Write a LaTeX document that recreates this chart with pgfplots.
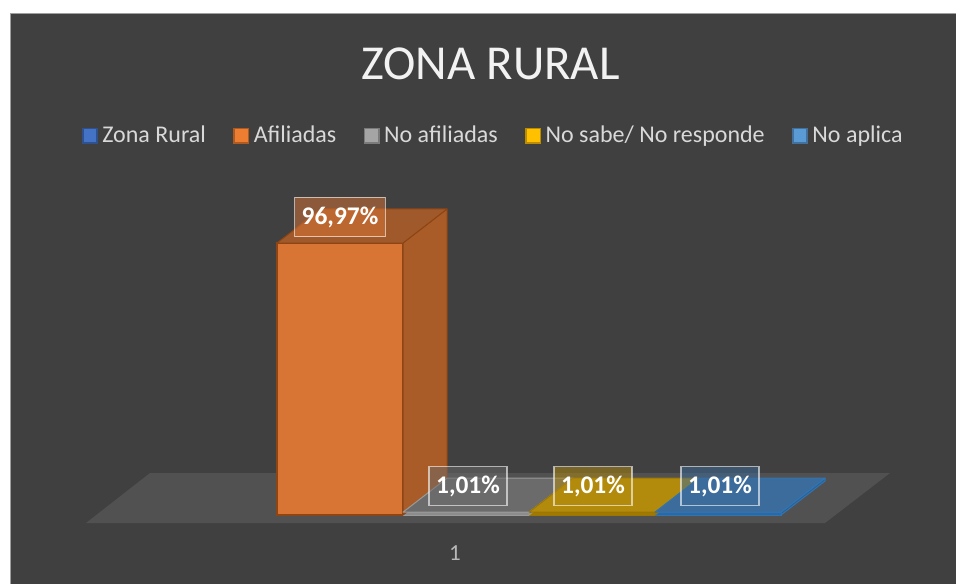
\documentclass[border=0pt]{standalone}
\usepackage{pgfplots}
\pgfplotsset{compat=1.18}
\usepackage{fontspec}
\setmainfont{Carlito}
\definecolor{bg}{HTML}{404040}
\definecolor{floorc}{HTML}{525151}
\definecolor{legtext}{HTML}{D9D9D9}
\definecolor{zrfill}{HTML}{4472C4}\definecolor{zredge}{HTML}{2F528F}
\definecolor{orfill}{HTML}{ED7D31}\definecolor{oredge}{HTML}{AE5A21}
\definecolor{grfill}{HTML}{A5A5A5}\definecolor{gredge}{HTML}{7B7B7B}
\definecolor{yefill}{HTML}{FFC000}\definecolor{yeedge}{HTML}{BC8C00}
\definecolor{blfill}{HTML}{5B9BD5}\definecolor{bledge}{HTML}{41719C}
% 3D faces
\definecolor{orfront}{HTML}{D87535}\definecolor{ortop}{HTML}{A0592A}\definecolor{orside}{HTML}{A95C28}\definecolor{orline}{HTML}{8E4514}
\definecolor{grfront}{HTML}{8C8C8C}\definecolor{grtop}{HTML}{6B6B6B}\definecolor{grside}{HTML}{5E5E5E}\definecolor{grline}{HTML}{9A9A9A}
\definecolor{yefront}{HTML}{A07A00}\definecolor{yetop}{HTML}{B38B0C}\definecolor{yeside}{HTML}{8F6D00}\definecolor{yeline}{HTML}{9C7600}
\definecolor{blfront}{HTML}{2F67A0}\definecolor{bltop}{HTML}{3C6C9B}\definecolor{blside}{HTML}{2E5F90}\definecolor{blline}{HTML}{2E75B6}
\pgfdeclareplotmark{empty}{}
\pgfplotsset{
  box3d/.style n args={5}{forget plot, scatter, only marks, mark=empty,
    visualization depends on={rawy \as \val},
    scatter/@pre marker code/.code={%
      \pgfmathsetmacro\hh{\val*1.4025}%
      \filldraw[fill=#4,draw=#5,line width=0.5pt,line join=round]
        ({#2pt},0pt) -- ({#2pt+22pt},17pt) -- ({#2pt+22pt},{17pt-\hh pt}) -- ({#2pt},{-\hh pt}) -- cycle;
      \filldraw[fill=#3,draw=#5,line width=0.5pt,line join=round]
        ({#1pt},0pt) -- ({#2pt},0pt) -- ({#2pt+22pt},17pt) -- ({#1pt+22pt},17pt) -- cycle;
    },
    scatter/@post marker code/.code={}},
  lab/.style 2 args={nodes near coords={\pgfmathprintnumber[fixed,fixed zerofill,precision=2,use comma,assume math mode=true]{\pgfplotspointmeta}\%},
    every node near coord/.append style={font=\bfseries\fontsize{12.7pt}{14pt}\selectfont,
    text=white, fill=#1, fill opacity=0.5, text opacity=1, draw=white, draw opacity=0.6,
    line width=0.8pt, inner xsep=3.6pt, inner ysep=0pt, minimum height=19.5pt, anchor=center, yshift=13pt, xshift=#2}},
}
\begin{document}
\begin{tikzpicture}
\useasboundingbox (0,0) rectangle (478pt,292pt);
\fill[white] (0,0) rectangle (478pt,292pt);
\fill[bg] (5pt,0) rectangle (478pt,285.5pt);
\draw[color=gray!75,line width=0.5pt] (5.25pt,0) -- (5.25pt,285.25pt) -- (478pt,285.25pt);
\node[text=white!95!black, font=\fontsize{24.4pt}{28pt}\selectfont, anchor=center] at (245.25pt,260pt) {ZONA RURAL};
\fill[floorc] (43pt,30.5pt) -- (412.5pt,30.5pt) -- (445pt,55.5pt) -- (75pt,55.5pt) -- cycle;
\begin{axis}[
  at={(75.5pt,34.5pt)}, anchor=south west,
  scale only axis, width=315pt, height=140.25pt,
  xmin=0.5, xmax=1.5, ymin=0, ymax=100,
  clip=false,
  axis line style={draw=none},
  ytick=\empty,
  xtick={1}, xticklabels={1}, xtick pos=bottom,
  major tick length=0pt,
  xticklabel style={font=\fontsize{11.5pt}{13pt}\selectfont, text=legtext!85!black, anchor=center, xshift=-5.5pt, yshift=-19pt},
  legend columns=5,
  legend image code/.code={\draw[#1, line width=0.8pt] (0pt,-3.6pt) rectangle (7.2pt,3.6pt);},
  legend style={at={(0.5452,1.352)}, anchor=center, draw=none, fill=none,
    text=legtext, font=\fontsize{12pt}{13pt}\selectfont,
    nodes={inner xsep=2.2pt},
    column sep=0pt,
    /tikz/every even column/.append style={column sep=11.5pt}},
]
\addlegendimage{fill=zrfill, draw=zredge}\addlegendentry{Zona Rural}
\addlegendimage{fill=orfill, draw=oredge}\addlegendentry{Afiliadas}
\addlegendimage{fill=grfill, draw=gredge}\addlegendentry{No afiliadas}
\addlegendimage{fill=yefill, draw=yeedge}\addlegendentry{No sabe/ No responde}
\addlegendimage{fill=blfill, draw=bledge}\addlegendentry{No aplica}
% Afiliadas
\addplot[box3d={-94.5}{-31.5}{ortop}{orside}{orline}] coordinates {(1,96.97)};
\addplot[ybar, forget plot, bar width=63pt, bar shift=-63pt, fill=orfront, draw=orline, line width=0.6pt,
  lab={orfront}{-63pt}] coordinates {(1,96.97)};
% No afiliadas
\addplot[box3d={-31.5}{31.5}{grtop}{grside}{grline}] coordinates {(1,1.01)};
\addplot[ybar, forget plot, bar width=63pt, bar shift=0pt, fill=grfront, draw=grline, line width=0.5pt,
  lab={grtop}{1pt}] coordinates {(1,1.01)};
% No sabe
\addplot[box3d={31.5}{94.5}{yetop}{yeside}{yeline}] coordinates {(1,1.01)};
\addplot[ybar, forget plot, bar width=63pt, bar shift=63pt, fill=yefront, draw=yeline, line width=0.5pt,
  lab={yetop}{63.5pt}] coordinates {(1,1.01)};
% No aplica
\addplot[box3d={94.5}{157.5}{bltop}{blside}{blline}] coordinates {(1,1.01)};
\addplot[ybar, forget plot, bar width=63pt, bar shift=126pt, fill=blfront, draw=blline, line width=0.5pt,
  lab={bltop}{127pt}] coordinates {(1,1.01)};
\end{axis}
\end{tikzpicture}
\end{document}
